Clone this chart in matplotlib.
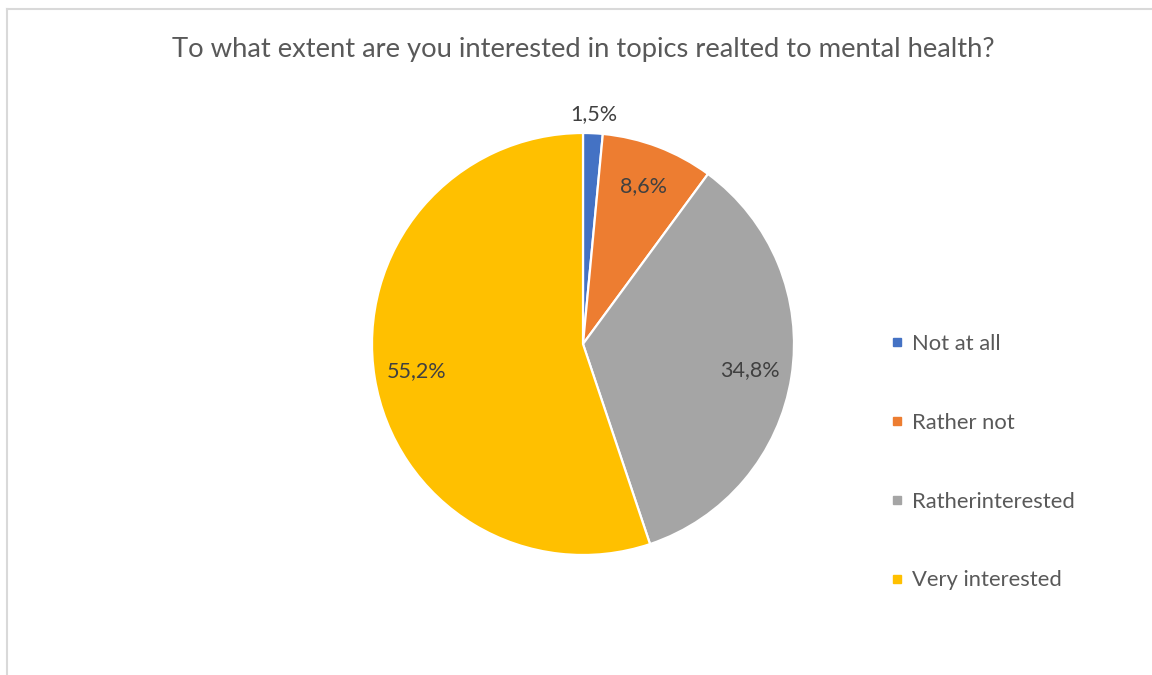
import matplotlib
matplotlib.use("Agg")
import matplotlib.pyplot as plt
from matplotlib.lines import Line2D
import numpy as np

title = "To what extent are you interested in topics realted to mental health?"
categories = ["Not at all", "Rather not", "Ratherinterested", "Very interested"]
values = [1.5, 8.6, 34.8, 55.2]
labels = ["1,5%", "8,6%", "34,8%", "55,2%"]
colors = ["#4472C4", "#ED7D31", "#A5A5A5", "#FFC000"]
label_dist = [1.09, 0.8, 0.8, 0.8]

plt.rcParams['font.family'] = ['Lato', 'DejaVu Sans']
W, H = 1152, 675
fig = plt.figure(figsize=(W / 100, H / 100), dpi=100)
fig.patch.set_facecolor("white")

cx, cy, r = 583, 344, 211
ax = fig.add_axes([(cx - r) / W, (H - cy - r) / H, 2 * r / W, 2 * r / H])
wedges, _ = ax.pie(values, colors=colors, startangle=90, counterclock=False,
                   radius=1, wedgeprops=dict(edgecolor="white", linewidth=1.6))
ax.set_xlim(-1, 1)
ax.set_ylim(-1, 1)
ax.set_aspect("equal")
ax.axis("off")

for w, lab, d in zip(wedges, labels, label_dist):
    ang = np.deg2rad((w.theta1 + w.theta2) / 2)
    ax.text(d * np.cos(ang), d * np.sin(ang), lab, ha="center", va="center",
            fontsize=15.5, color="#404040", clip_on=False)

fig.text(583 / W, 1 - 50 / H, title, ha="center", va="center",
         fontsize=19.7, color="#595959")

handles = [Line2D([], [], marker="s", linestyle="none", markersize=6,
                  markerfacecolor=c, markeredgecolor=c) for c in colors]
fig.legend(handles, categories, loc="upper left",
           bbox_to_anchor=(892 / W, 1 - 334 / H), frameon=False,
           fontsize=15.8, labelcolor="#595959", handlelength=0.5,
           handletextpad=0.4, labelspacing=2.68, borderpad=0, borderaxespad=0)

# chart area border
fig.add_artist(Line2D([7 / W, 7 / W], [0, 1 - 9 / H], color="#D9D9D9", lw=1.5,
                      transform=fig.transFigure))
fig.add_artist(Line2D([7 / W, 1], [1 - 9 / H, 1 - 9 / H], color="#D9D9D9", lw=1.5,
                      transform=fig.transFigure))

fig.savefig("out.png", dpi=100, facecolor="white")
